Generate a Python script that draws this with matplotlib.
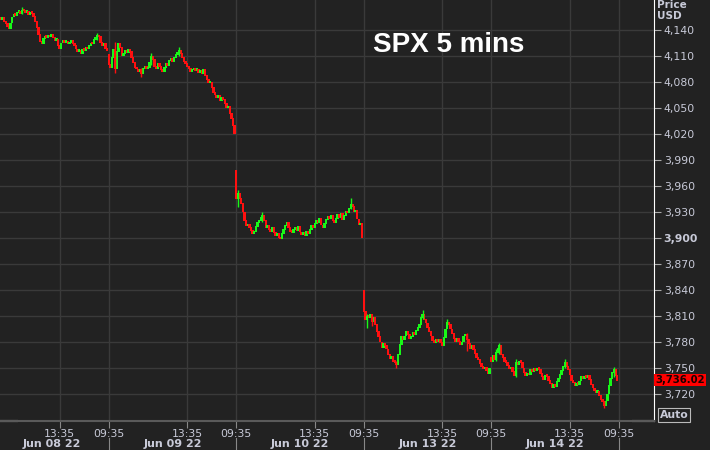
import matplotlib
matplotlib.use("Agg")
import matplotlib.pyplot as plt
from matplotlib.transforms import blended_transform_factory

# 5分钟K线，收盘价按天从图上读出来的
days = ["Jun 08 22", "Jun 09 22", "Jun 10 22", "Jun 13 22", "Jun 14 22"]
day_open = [4155, 4112, 3978, 3840, 3762]

close_jun08 = [4152, 4155, 4150, 4147, 4144, 4142, 4148, 4155, 4158, 4157,
               4160, 4161, 4159, 4163, 4162, 4160, 4161, 4158, 4160, 4159,
               4156, 4150, 4143, 4135, 4127, 4124, 4130, 4133, 4131, 4134,
               4132, 4135, 4131, 4128, 4129, 4122, 4119, 4125, 4128, 4126,
               4127, 4124, 4126, 4128, 4124, 4122, 4118, 4115, 4116, 4113,
               4118, 4116, 4120, 4118, 4122, 4125, 4124, 4129, 4131, 4134,
               4132, 4126, 4122, 4124, 4119, 4116]
close_jun09 = [4100, 4097, 4108, 4118, 4096, 4115, 4124, 4120, 4110, 4113,
               4116, 4114, 4117, 4115, 4108, 4102, 4097, 4095, 4092, 4094,
               4090, 4096, 4098, 4095, 4097, 4103, 4109, 4106, 4098, 4096,
               4101, 4098, 4094, 4092, 4097, 4101, 4099, 4105, 4107, 4103,
               4108, 4112, 4114, 4116, 4113, 4108, 4104, 4101, 4098, 4096,
               4092, 4094, 4096, 4093, 4095, 4091, 4093, 4090, 4094, 4087,
               4083, 4079, 4080, 4074, 4068, 4065, 4062, 4064, 4059, 4062,
               4060, 4055, 4050, 4052, 4044, 4038, 4030, 4020]
close_jun10 = [3945, 3952, 3946, 3940, 3930, 3920, 3914, 3916, 3912, 3909,
               3905, 3907, 3913, 3918, 3920, 3924, 3926, 3920, 3912, 3915,
               3910, 3908, 3912, 3906, 3903, 3905, 3901, 3899, 3905, 3910,
               3914, 3918, 3912, 3908, 3906, 3910, 3912, 3909, 3913, 3907,
               3904, 3906, 3903, 3908, 3905, 3910, 3914, 3912, 3917, 3920,
               3918, 3923, 3915, 3912, 3917, 3921, 3925, 3922, 3926, 3920,
               3918, 3923, 3927, 3924, 3928, 3921, 3926, 3931, 3929, 3934,
               3939, 3936, 3930, 3932, 3922, 3915, 3917, 3900]
close_jun13 = [3815, 3806, 3810, 3808, 3812, 3804, 3808, 3800, 3792, 3786,
               3780, 3774, 3778, 3776, 3772, 3766, 3761, 3763, 3758, 3756,
               3754, 3766, 3777, 3786, 3783, 3787, 3792, 3789, 3784, 3786,
               3791, 3789, 3793, 3797, 3800, 3808, 3812, 3806, 3802, 3797,
               3792, 3787, 3782, 3779, 3783, 3781, 3783, 3779, 3776, 3785,
               3795, 3803, 3800, 3795, 3790, 3784, 3780, 3784, 3781, 3777,
               3780, 3787, 3789, 3783, 3778, 3773, 3776, 3771, 3767, 3762,
               3760, 3755, 3752, 3749, 3751, 3747, 3744, 3749]
close_jun14 = [3758, 3765, 3760, 3768, 3773, 3776, 3766, 3762, 3758, 3756,
               3753, 3749, 3751, 3746, 3741, 3756, 3754, 3758, 3756, 3750,
               3745, 3741, 3744, 3742, 3748, 3746, 3749, 3747, 3750, 3748,
               3744, 3740, 3737, 3742, 3740, 3736, 3732, 3728, 3731, 3729,
               3734, 3738, 3743, 3747, 3752, 3756, 3752, 3748, 3742, 3736,
               3733, 3730, 3732, 3731, 3735, 3740, 3738, 3740, 3739, 3741,
               3737, 3731, 3727, 3724, 3722, 3723, 3718, 3714, 3711, 3707,
               3712, 3720, 3730, 3738, 3745, 3748, 3741, 3736.02]
closes = [close_jun08, close_jun09, close_jun10, close_jun13, close_jun14]

# 比较明显的影线: (第几天, 第几根, 最低, 最高)
wicks = [(0, 13, 4158, 4166), (0, 59, 4128, 4137),
         (1, 4, 4090, 4126), (1, 20, 4086, 4096), (1, 43, 4110, 4120),
         (1, 26, 4100, 4113),
         (2, 1, 3936, 3955), (2, 70, 3933, 3946), (2, 16, 3918, 3930),
         (3, 2, 3796, 3812), (3, 5, 3798, 3810), (3, 20, 3750, 3758),
         (3, 36, 3806, 3817), (3, 63, 3770, 3790), (3, 51, 3798, 3807),
         (4, 3, 3758, 3772), (4, 5, 3766, 3779), (4, 15, 3740, 3760),
         (4, 45, 3750, 3760), (4, 69, 3704, 3712), (4, 75, 3740, 3751)]

price_ticks = [3720, 3750, 3780, 3810, 3840, 3870, 3900, 3930, 3960, 3990,
               4020, 4050, 4080, 4110, 4140]
last_price = close_jun14[-1]

BG = "#222222"
GRID = "#3a3a3a"
TXT = "#c8cad8"
UP = "#18f818"
DOWN = "#ff1010"

# 开盘价 = 上一根的收盘价（每天第一根用当天开盘价）
opens, cls, day_start = [], [], []
for d_open, cl in zip(day_open, closes):
    day_start.append(len(cls))
    prev = d_open
    for v in cl:
        opens.append(prev)
        cls.append(v)
        prev = v
n = len(cls)
# 第一天只显示了后半段，往前推出当天的09:35位置
day_start[0] = day_start[1] - 78
next_day = day_start[-1] + 78
bar0 = [0] + day_start[1:]

fig = plt.figure(figsize=(7.1, 4.5), dpi=100, facecolor=BG)
ax = fig.add_axes([0, 29 / 450, 654 / 710, 421 / 450], facecolor=BG)

colors = [UP if cls[i] >= opens[i] else DOWN for i in range(n)]

# 影线
for d, b, lo, hi in wicks:
    i = bar0[d] + b
    ax.vlines(i, lo, hi, color=colors[i], linewidth=1.0)

# 实体
for i in range(n):
    lo, hi = min(opens[i], cls[i]), max(opens[i], cls[i])
    ax.bar(i, max(hi - lo, 2.2) + 1.0, bottom=lo - 0.5, width=1.45,
           color=colors[i], linewidth=0)

ax.set_ylim(3688.9, 4174.6)
ax.set_xlim(-0.5, 399.5)

# 右侧价格轴
ax.yaxis.tick_right()
ax.set_yticks(price_ticks)
ax.set_yticklabels([f"{p:,}" for p in price_ticks], fontsize=7.8, color=TXT)
for lab, p in zip(ax.get_yticklabels(), price_ticks):
    if p == 3900:
        lab.set_fontweight("bold")
ax.tick_params(axis="y", length=5, width=0.8, color="#aaaaaa", pad=2)

# 下方时间轴
xt, xl = [], []
for s in day_start:
    if s >= 0:
        xt.append(s)
        xl.append("09:35")
    xt.append(s + 48)
    xl.append("13:35")
xt.append(next_day)
xl.append("09:35")
ax.set_xticks(xt)
ax.set_xticklabels(xl, fontsize=7.8, color=TXT)
ax.tick_params(axis="x", length=5, width=0.8, color="#888888", pad=1)

ax.grid(True, color=GRID, linewidth=1)
ax.set_axisbelow(True)
for side in ["top", "left"]:
    ax.spines[side].set_visible(False)
ax.spines["right"].set_color("white")
ax.spines["bottom"].set_color("#5a5a5a")
ax.spines["bottom"].set_linewidth(1.5)

# 日期行和分隔竖线
tr = blended_transform_factory(ax.transData, ax.transAxes)
for k, s in enumerate(day_start):
    xc = 31 if k == 0 else s + 39
    ax.text(xc, -(444 - 421) / 421, days[k], transform=tr, ha="center",
            va="center", fontsize=8, fontweight="bold", color=TXT,
            clip_on=False)
for s in day_start[1:] + [next_day]:
    ax.plot([s, s], [-(438 - 421) / 421, -29 / 421], transform=tr,
            color="#888888", linewidth=0.8, clip_on=False)
ax.plot([0, 17 / 654], [0, 0], transform=ax.transAxes, color="white",
        linewidth=1.5, clip_on=False)
ax.plot([633 / 654, 1], [0, 0], transform=ax.transAxes, color="white",
        linewidth=1.5, clip_on=False)

# 标题
ax.text(449 / 654, 1 - 45 / 421, "SPX 5 mins", transform=ax.transAxes,
        ha="center", va="center", fontsize=20, fontweight="bold",
        color="white", family="Liberation Sans")

# 右上角 Price USD
fig.text(657 / 710, 1 - 5 / 450, "Price", fontsize=7.5, fontweight="bold",
         color=TXT, ha="left", va="center")
fig.text(657 / 710, 1 - 16 / 450, "USD", fontsize=7.5, fontweight="bold",
         color=TXT, ha="left", va="center")

# 最新价红框
ax.text(1.002, last_price, f"{last_price:,.2f}",
        transform=ax.get_yaxis_transform(),
        fontsize=7.3, fontweight="bold", color="#1a0000", ha="left",
        va="center", clip_on=False,
        bbox=dict(boxstyle="square,pad=0.12", fc="#ff0000", ec="none"))

# Auto 按钮
fig.text(674 / 710, 1 - 415 / 450, "Auto", fontsize=7.8, fontweight="bold",
         color=TXT, ha="center", va="center",
         bbox=dict(boxstyle="square,pad=0.15", fc=BG, ec="#bbbbbb", lw=0.8))

fig.savefig("out.png", dpi=100, facecolor=BG)
